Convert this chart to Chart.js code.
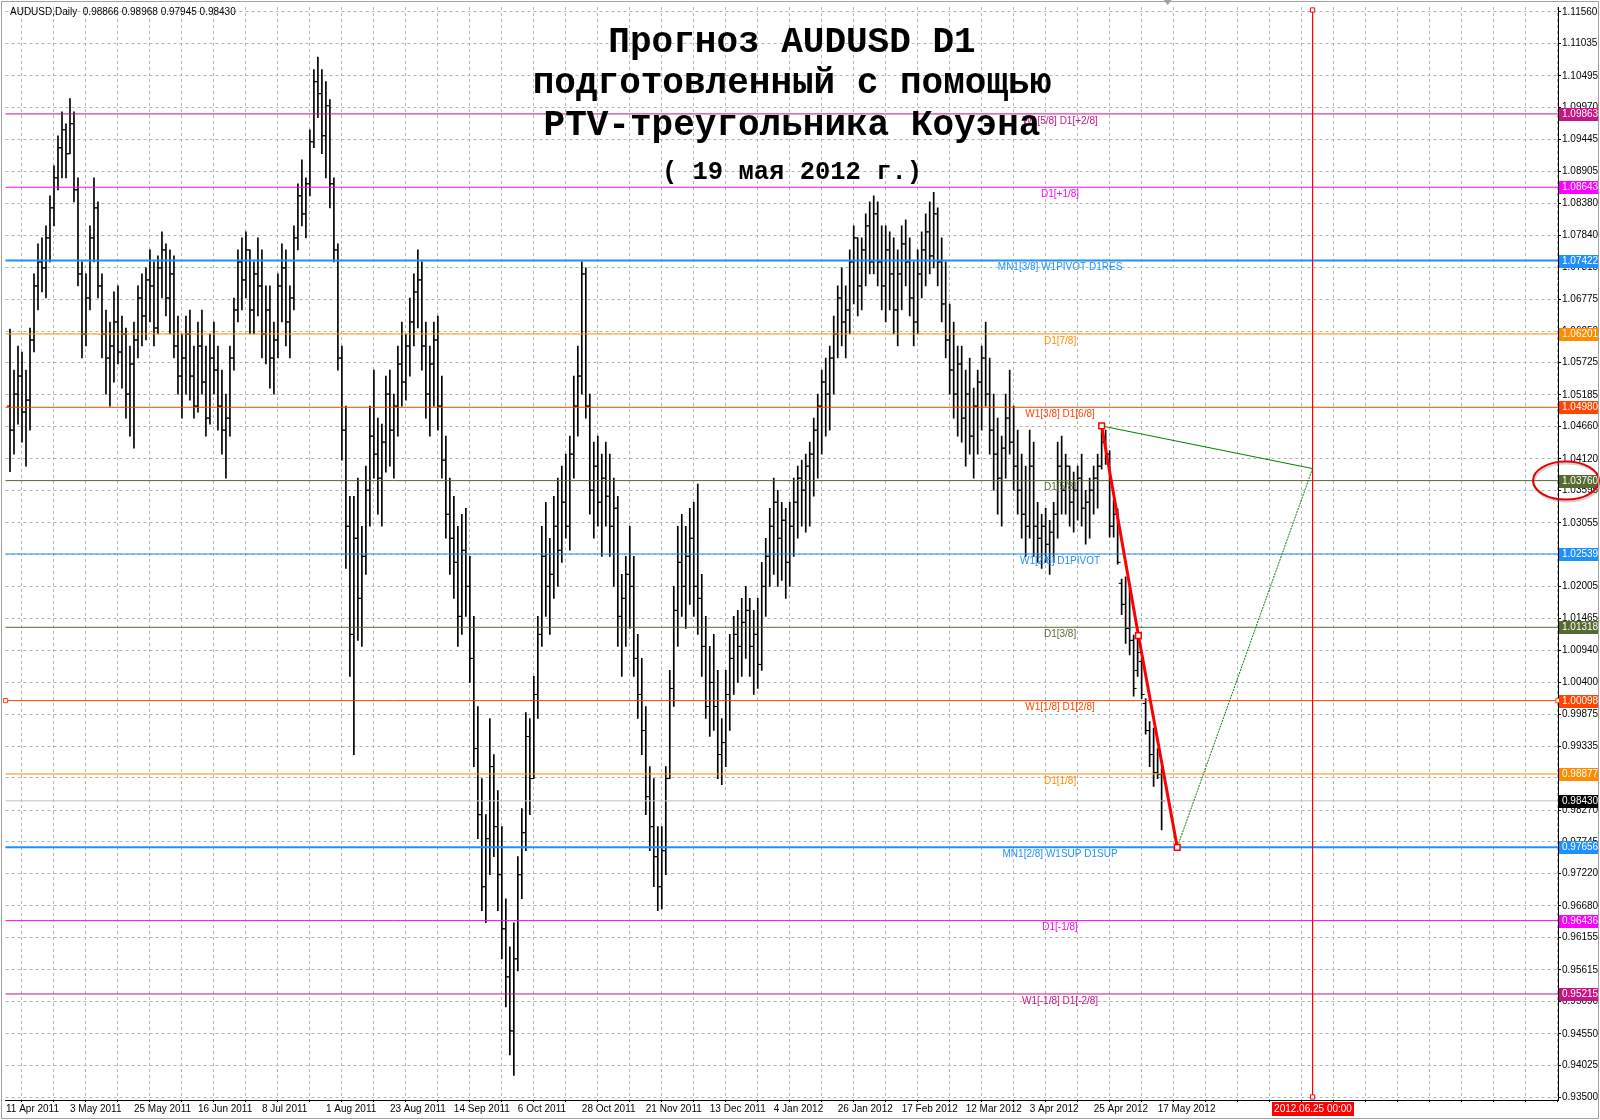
<!DOCTYPE html>
<html>
<head>
<meta charset="utf-8">
<title>AUDUSD D1</title>
<script src="https://cdn.jsdelivr.net/npm/chart.js@4.4.1/dist/chart.umd.min.js"></script>
<style>
    html, body { margin: 0; padding: 0; background: #fff; }
    #wrap { position: relative; width: 1600px; height: 1120px; overflow: hidden; }
    #c { display: block; }
    #hdr { position: absolute; left: 10px; top: 6px; font: 10px "Liberation Sans", Arial, sans-serif; color: #000; white-space: pre; }
    .t { position: absolute; left: 0; width: 1584px; text-align: center; font-family: "Liberation Mono", "Courier New", monospace; font-weight: bold; color: #000; white-space: pre; }
    .big { font-size: 36px; line-height: 40px; }
    .small { font-size: 25.5px; line-height: 30px; }
</style>
</head>
<body>
<div id="wrap">
    <canvas id="c" width="1600" height="1120"></canvas>
    <div id="hdr">AUDUSD,Daily  0.98866 0.98968 0.97945 0.98430</div>
    <div class="t big" style="top:23px">Прогноз AUDUSD D1</div>
    <div class="t big" style="top:64px">подготовленный с помощью</div>
    <div class="t big" style="top:106px">PTV-треугольника Коуэна</div>
    <div class="t small" style="top:158px">( 19 мая 2012 г.)</div>
</div>
<script>
// Daily bars, 11 Apr 2011 .. 17 May 2012 (one row = 16 bars)
var opens = [
    1.0500,1.0460,1.0520,1.0550,1.0490,1.0510,1.0610,1.0700,1.0740,1.0730,1.0780,1.0830,1.0880,1.0930,1.0960,1.0920,
    1.0970,1.0860,1.0720,1.0620,1.0680,1.0780,1.0830,1.0700,1.0620,1.0580,1.0600,1.0640,1.0590,1.0620,1.0520,1.0570,
    1.0610,1.0680,1.0650,1.0710,1.0700,1.0630,1.0730,1.0760,1.0680,1.0720,1.0600,1.0550,1.0580,1.0620,1.0550,1.0500,
    1.0600,1.0540,1.0480,1.0580,1.0560,1.0500,1.0460,1.0480,1.0580,1.0660,1.0740,1.0710,1.0760,1.0660,1.0720,1.0700,
    1.0620,1.0660,1.0580,1.0610,1.0700,1.0730,1.0640,1.0680,1.0780,1.0850,1.0820,1.0870,1.0940,1.1040,1.1020,1.0950,
    1.1000,1.0870,1.0760,1.0580,1.0460,1.0300,1.0120,1.0280,1.0180,1.0250,1.0360,1.0450,1.0420,1.0380,1.0440,1.0520,
    1.0460,1.0500,1.0570,1.0540,1.0600,1.0640,1.0690,1.0710,1.0600,1.0520,1.0570,1.0610,1.0500,1.0410,1.0320,1.0280,
    1.0240,1.0150,1.0260,1.0200,1.0080,0.9930,0.9820,0.9700,0.9780,0.9900,0.9800,0.9720,0.9630,0.9550,0.9460,0.9580,
    0.9720,0.9790,0.9950,0.9880,1.0020,1.0120,1.0250,1.0200,1.0220,1.0300,1.0260,1.0340,1.0300,1.0420,1.0500,1.0550,
    1.0720,1.0500,1.0360,1.0400,1.0340,1.0380,1.0350,1.0300,1.0330,1.0150,1.0180,1.0220,1.0200,1.0080,1.0020,0.9960,
    0.9850,0.9800,0.9750,0.9700,0.9760,0.9880,1.0030,1.0160,1.0240,1.0200,1.0250,1.0280,1.0200,1.0180,1.0100,1.0000,
    1.0040,1.0000,0.9920,0.9940,1.0020,1.0080,1.0120,1.0100,1.0140,1.0160,1.0100,1.0120,1.0070,1.0200,1.0250,1.0300,
    1.0340,1.0280,1.0310,1.0240,1.0300,1.0340,1.0380,1.0360,1.0400,1.0420,1.0460,1.0500,1.0540,1.0520,1.0580,1.0620,
    1.0680,1.0640,1.0660,1.0740,1.0780,1.0700,1.0760,1.0800,1.0740,1.0820,1.0740,1.0700,1.0760,1.0720,1.0660,1.0720,
    1.0770,1.0740,1.0680,1.0640,1.0720,1.0760,1.0790,1.0750,1.0820,1.0740,1.0670,1.0610,1.0560,1.0520,1.0570,1.0480,
    1.0520,1.0450,1.0500,1.0540,1.0580,1.0520,1.0460,1.0420,1.0380,1.0430,1.0480,1.0440,1.0400,1.0360,1.0320,1.0300,
    1.0400,1.0300,1.0280,1.0300,1.0270,1.0290,1.0320,1.0400,1.0360,1.0400,1.0340,1.0360,1.0380,1.0330,1.0340,1.0360,
    1.0380,1.0400,1.0440,1.0420,1.0300,1.0320,1.0205,1.0170,1.0130,1.0110,1.0060,1.0075,1.0005,0.9960,0.9920,0.9890,
    0.98866
];
var highs = [
    1.0628,1.0560,1.0600,1.0590,1.0560,1.0630,1.0720,1.0770,1.0780,1.0800,1.0850,1.0900,1.0950,1.0990,1.0970,1.1012,
    1.0990,1.0880,1.0740,1.0720,1.0800,1.0880,1.0840,1.0720,1.0660,1.0640,1.0690,1.0700,1.0650,1.0630,1.0600,1.0640,
    1.0700,1.0720,1.0730,1.0760,1.0740,1.0750,1.0790,1.0770,1.0760,1.0750,1.0650,1.0620,1.0650,1.0660,1.0600,1.0640,
    1.0660,1.0600,1.0620,1.0640,1.0600,1.0560,1.0520,1.0600,1.0680,1.0760,1.0780,1.0790,1.0760,1.0740,1.0780,1.0760,
    1.0700,1.0700,1.0640,1.0720,1.0770,1.0760,1.0700,1.0800,1.0870,1.0910,1.0880,1.0960,1.1060,1.1081,1.1060,1.1040,
    1.1010,1.0880,1.0770,1.0600,1.0500,1.0350,1.0350,1.0380,1.0300,1.0400,1.0500,1.0560,1.0480,1.0470,1.0550,1.0560,
    1.0520,1.0600,1.0640,1.0620,1.0680,1.0720,1.0760,1.0740,1.0640,1.0600,1.0640,1.0650,1.0550,1.0450,1.0380,1.0350,
    1.0300,1.0320,1.0330,1.0250,1.0150,1.0000,0.9880,0.9820,0.9980,0.9920,0.9860,0.9800,0.9680,0.9600,0.9640,0.9750,
    0.9830,0.9990,0.9980,1.0050,1.0150,1.0300,1.0340,1.0280,1.0350,1.0380,1.0400,1.0420,1.0450,1.0550,1.0600,1.0740,
    1.0730,1.0520,1.0440,1.0450,1.0420,1.0440,1.0420,1.0380,1.0350,1.0220,1.0250,1.0300,1.0250,1.0120,1.0080,1.0000,
    0.9900,0.9880,0.9800,0.9800,0.9900,1.0060,1.0200,1.0300,1.0320,1.0300,1.0330,1.0340,1.0370,1.0220,1.0150,1.0100,
    1.0120,1.0060,0.9980,1.0060,1.0120,1.0150,1.0160,1.0180,1.0200,1.0180,1.0160,1.0180,1.0240,1.0280,1.0330,1.0380,
    1.0360,1.0340,1.0330,1.0340,1.0380,1.0400,1.0410,1.0420,1.0440,1.0480,1.0520,1.0560,1.0580,1.0600,1.0650,1.0700,
    1.0730,1.0700,1.0760,1.0800,1.0780,1.0780,1.0820,1.0840,1.0850,1.0840,1.0800,1.0800,1.0790,1.0780,1.0760,1.0800,
    1.0810,1.0780,1.0740,1.0760,1.0790,1.0820,1.0840,1.0856,1.0830,1.0780,1.0740,1.0670,1.0640,1.0600,1.0600,1.0560,
    1.0580,1.0530,1.0560,1.0600,1.0640,1.0580,1.0520,1.0480,1.0450,1.0520,1.0560,1.0500,1.0460,1.0420,1.0400,1.0460,
    1.0440,1.0340,1.0320,1.0330,1.0310,1.0340,1.0440,1.0450,1.0420,1.0400,1.0390,1.0400,1.0420,1.0360,1.0380,1.0400,
    1.0420,1.0467,1.0460,1.0426,1.0343,1.0329,1.0212,1.0216,1.0196,1.0119,1.0119,1.0080,1.0013,0.9975,0.9964,0.9930,
    0.98968
];
var lows = [
    1.0391,1.0420,1.0470,1.0440,1.0400,1.0460,1.0590,1.0660,1.0690,1.0680,1.0740,1.0800,1.0860,1.0880,1.0880,1.0920,
    1.0840,1.0700,1.0580,1.0600,1.0660,1.0740,1.0680,1.0580,1.0520,1.0500,1.0540,1.0570,1.0530,1.0480,1.0450,1.0430,
    1.0580,1.0600,1.0610,1.0640,1.0600,1.0620,1.0680,1.0650,1.0620,1.0580,1.0520,1.0480,1.0520,1.0510,1.0480,1.0490,
    1.0520,1.0450,1.0470,1.0520,1.0460,1.0420,1.0380,1.0450,1.0560,1.0640,1.0660,1.0680,1.0620,1.0620,1.0650,1.0580,
    1.0570,1.0530,1.0520,1.0580,1.0640,1.0600,1.0580,1.0660,1.0760,1.0800,1.0780,1.0850,1.0930,1.0980,1.0920,1.0880,
    1.0830,1.0740,1.0560,1.0410,1.0230,1.0050,0.9920,1.0110,1.0100,1.0220,1.0300,1.0380,1.0320,1.0300,1.0390,1.0400,
    1.0380,1.0450,1.0500,1.0510,1.0550,1.0600,1.0630,1.0560,1.0480,1.0450,1.0500,1.0460,1.0380,1.0280,1.0220,1.0180,
    1.0100,1.0120,1.0150,1.0040,0.9900,0.9780,0.9660,0.9640,0.9720,0.9750,0.9660,0.9580,0.9500,0.9420,0.9386,0.9560,
    0.9680,0.9760,0.9820,0.9880,0.9980,1.0100,1.0150,1.0120,1.0180,1.0200,1.0240,1.0280,1.0260,1.0380,1.0450,1.0520,
    1.0480,1.0320,1.0280,1.0300,1.0250,1.0300,1.0250,1.0200,1.0100,1.0050,1.0100,1.0130,1.0050,0.9980,0.9920,0.9820,
    0.9760,0.9700,0.9660,0.9663,0.9720,0.9880,1.0000,1.0100,1.0150,1.0130,1.0170,1.0150,1.0120,1.0050,0.9980,0.9950,
    0.9960,0.9880,0.9870,0.9900,0.9960,1.0020,1.0040,1.0050,1.0080,1.0050,1.0020,1.0030,1.0060,1.0150,1.0200,1.0220,
    1.0200,1.0210,1.0180,1.0200,1.0250,1.0280,1.0300,1.0290,1.0300,1.0350,1.0380,1.0420,1.0450,1.0460,1.0520,1.0580,
    1.0600,1.0580,1.0620,1.0670,1.0650,1.0660,1.0700,1.0720,1.0720,1.0700,1.0660,1.0640,1.0660,1.0620,1.0600,1.0660,
    1.0700,1.0650,1.0600,1.0620,1.0680,1.0700,1.0720,1.0730,1.0700,1.0640,1.0580,1.0520,1.0480,1.0450,1.0440,1.0400,
    1.0420,1.0380,1.0420,1.0460,1.0500,1.0420,1.0360,1.0320,1.0300,1.0380,1.0420,1.0360,1.0320,1.0280,1.0250,1.0280,
    1.0250,1.0240,1.0230,1.0240,1.0220,1.0240,1.0280,1.0320,1.0320,1.0300,1.0290,1.0310,1.0300,1.0270,1.0280,1.0320,
    1.0330,1.0395,1.0403,1.0282,1.0282,1.0237,1.0153,1.0105,1.0086,1.0017,1.0050,1.0013,0.9954,0.9900,0.9867,0.9880,
    0.97945
];
var closes = [
    1.0460,1.0520,1.0550,1.0490,1.0510,1.0610,1.0700,1.0740,1.0730,1.0780,1.0830,1.0880,1.0930,1.0960,1.0920,1.0970,
    1.0860,1.0720,1.0620,1.0680,1.0780,1.0830,1.0700,1.0620,1.0580,1.0600,1.0640,1.0590,1.0620,1.0520,1.0570,1.0610,
    1.0680,1.0650,1.0710,1.0700,1.0630,1.0730,1.0760,1.0680,1.0720,1.0600,1.0550,1.0580,1.0620,1.0550,1.0500,1.0600,
    1.0540,1.0480,1.0580,1.0560,1.0500,1.0460,1.0480,1.0580,1.0660,1.0740,1.0710,1.0760,1.0660,1.0720,1.0700,1.0620,
    1.0660,1.0580,1.0610,1.0700,1.0730,1.0640,1.0680,1.0780,1.0850,1.0820,1.0870,1.0940,1.1040,1.1020,1.0950,1.1000,
    1.0870,1.0760,1.0580,1.0460,1.0300,1.0120,1.0280,1.0180,1.0250,1.0360,1.0450,1.0420,1.0380,1.0440,1.0520,1.0460,
    1.0500,1.0570,1.0540,1.0600,1.0640,1.0690,1.0710,1.0600,1.0520,1.0570,1.0610,1.0500,1.0410,1.0320,1.0280,1.0240,
    1.0150,1.0260,1.0200,1.0080,0.9930,0.9820,0.9700,0.9780,0.9900,0.9800,0.9720,0.9630,0.9550,0.9460,0.9580,0.9720,
    0.9790,0.9950,0.9880,1.0020,1.0120,1.0250,1.0200,1.0220,1.0300,1.0260,1.0340,1.0300,1.0420,1.0500,1.0550,1.0720,
    1.0500,1.0360,1.0400,1.0340,1.0380,1.0350,1.0300,1.0330,1.0150,1.0180,1.0220,1.0200,1.0080,1.0020,0.9960,0.9850,
    0.9800,0.9750,0.9700,0.9760,0.9880,1.0030,1.0160,1.0240,1.0200,1.0250,1.0280,1.0200,1.0180,1.0100,1.0000,1.0040,
    1.0000,0.9920,0.9940,1.0020,1.0080,1.0120,1.0100,1.0140,1.0160,1.0100,1.0120,1.0070,1.0200,1.0250,1.0300,1.0340,
    1.0280,1.0310,1.0240,1.0300,1.0340,1.0380,1.0360,1.0400,1.0420,1.0460,1.0500,1.0540,1.0520,1.0580,1.0620,1.0680,
    1.0640,1.0660,1.0740,1.0780,1.0700,1.0760,1.0800,1.0740,1.0820,1.0740,1.0700,1.0760,1.0720,1.0660,1.0720,1.0770,
    1.0740,1.0680,1.0640,1.0720,1.0760,1.0790,1.0750,1.0820,1.0740,1.0670,1.0610,1.0560,1.0520,1.0570,1.0480,1.0520,
    1.0450,1.0500,1.0540,1.0580,1.0520,1.0460,1.0420,1.0380,1.0430,1.0480,1.0440,1.0400,1.0360,1.0320,1.0300,1.0400,
    1.0300,1.0280,1.0300,1.0270,1.0290,1.0320,1.0400,1.0360,1.0400,1.0340,1.0360,1.0380,1.0330,1.0340,1.0360,1.0380,
    1.0400,1.0440,1.0420,1.0300,1.0320,1.0240,1.0170,1.0130,1.0110,1.0030,1.0090,1.0020,0.9960,0.9920,0.9890,0.9887,
    0.98430
];

var dateLabels = ['11 Apr 2011', '3 May 2011', '25 May 2011', '16 Jun 2011', '8 Jul 2011', '1 Aug 2011',
    '23 Aug 2011', '14 Sep 2011', '6 Oct 2011', '28 Oct 2011', '21 Nov 2011', '13 Dec 2011', '4 Jan 2012',
    '26 Jan 2012', '17 Feb 2012', '12 Mar 2012', '3 Apr 2012', '25 Apr 2012', '17 May 2012'];

var priceTicks = [1.11560, 1.11035, 1.10495, 1.09970, 1.09445, 1.08905, 1.08380, 1.07840, 1.07315, 1.06775,
    1.06250, 1.05725, 1.05185, 1.04660, 1.04120, 1.03595, 1.03055, 1.02530, 1.02005, 1.01465, 1.00940,
    1.00400, 0.99875, 0.99335, 0.98810, 0.98270, 0.97745, 0.97220, 0.96680, 0.96155, 0.95615, 0.95090,
    0.94550, 0.94025, 0.93500];

// Murrey-style levels
var levelValues = [1.09863, 1.08643, 1.07422, 1.06201, 1.04980, 1.03760, 1.02539, 1.01318, 1.00098, 0.98877, 0.97656, 0.96436, 0.95215];
var levelNames = ['W1[5/8] D1[+2/8]', 'D1[+1/8]', 'MN1[3/8] W1PIVOT D1RES', 'D1[7/8]', 'W1[3/8] D1[6/8]', 'D1[5/8]',
    'W1[2/8] D1PIVOT', 'D1[3/8]', 'W1[1/8] D1[2/8]', 'D1[1/8]', 'MN1[2/8] W1SUP D1SUP', 'D1[-1/8]', 'W1[-1/8] D1[-2/8]'];
var levelColors = ['#c71585', '#ff00ff', '#1e90ff', '#ff8c00', '#ff4500', '#556b2f', '#1e90ff', '#556b2f', '#ff4500',
    '#ff8c00', '#1e90ff', '#ff00ff', '#c71585'];
var levelWidths = [1, 1, 2, 1, 1, 1, 1, 1, 1, 1, 2, 1, 1];

var lastPrice = 0.98430;

// PTV triangle (bar index, price)
var ptvX = [273, 282.2, 291.9];
var ptvY = [1.04670, 1.01180, 0.97656];
var apexX = 325.75;
var apexY = 1.03960;
var apexLabel = '2012.06.25 00:00';

(function() {
    'use strict';

    var X_MIN = -1.125, X_MAX = 387.125;
    var Y_MIN = 0.934502, Y_MAX = 1.116429;
    var LABEL_AT = 262.6;
    var FONT = '"Liberation Sans", Arial, sans-serif';

    Chart.defaults.font.family = FONT;
    Chart.defaults.font.size = 10;
    Chart.defaults.color = '#000';

    var datasets = [];

    // high-low sticks
    datasets.push({
        type: 'bar',
        data: highs.map(function(h, i) { return { x: i, y: [lows[i], h] }; }),
        backgroundColor: '#000',
        borderWidth: 0,
        barThickness: 1,
        order: 10
    });
    // open / close ticks
    datasets.push({
        type: 'scatter',
        data: opens.map(function(o, i) { return { x: i - 0.375, y: o }; }),
        pointStyle: 'line', pointRadius: 1.5, borderColor: '#000', borderWidth: 1,
        order: 9
    });
    datasets.push({
        type: 'scatter',
        data: closes.map(function(c, i) { return { x: i + 0.375, y: c }; }),
        pointStyle: 'line', pointRadius: 1.5, borderColor: '#000', borderWidth: 1,
        order: 9
    });

    // levels
    levelValues.forEach(function(v, i) {
        var selected = (v === 1.00098);
        datasets.push({
            type: 'line',
            data: [{ x: X_MIN, y: v }, { x: X_MAX, y: v }],
            borderColor: levelColors[i],
            borderWidth: levelWidths[i],
            pointRadius: selected ? 3 : 0,
            pointStyle: 'rect',
            pointBackgroundColor: '#fff',
            pointBorderColor: levelColors[i],
            pointBorderWidth: 1,
            clip: false,
            order: 5
        });
    });
    // bid line
    datasets.push({
        type: 'line',
        data: [{ x: X_MIN, y: lastPrice }, { x: X_MAX, y: lastPrice }],
        borderColor: '#c0c0c0', borderWidth: 1, pointRadius: 0, order: 6
    });

    // vertical time line
    datasets.push({
        type: 'line',
        data: [{ x: apexX, y: Y_MAX - 0.0005 }, { x: apexX, y: Y_MIN + 0.0005 }],
        borderColor: '#ff0000', borderWidth: 1,
        pointStyle: 'rect', pointRadius: 3, pointBackgroundColor: '#fff', pointBorderColor: '#ff0000', pointBorderWidth: 1,
        clip: false, order: 4
    });

    // green triangle legs
    datasets.push({
        type: 'line',
        data: [{ x: ptvX[0], y: ptvY[0] }, { x: apexX, y: apexY }],
        borderColor: '#008000', borderWidth: 1, pointRadius: 0, order: 3
    });
    datasets.push({
        type: 'line',
        data: [{ x: apexX, y: apexY }, { x: ptvX[2], y: ptvY[2] }],
        borderColor: '#008000', borderWidth: 1, borderDash: [2, 1], pointRadius: 0, order: 3
    });

    // red leg
    datasets.push({
        type: 'line',
        data: ptvX.map(function(x, i) { return { x: x, y: ptvY[i] }; }),
        borderColor: '#ff0000', borderWidth: 3,
        pointStyle: 'rect', pointRadius: 4, pointBackgroundColor: '#fff', pointBorderColor: '#ff0000', pointBorderWidth: 1.5,
        order: 1
    });

    var overlay = {
        id: 'overlay',
        beforeDraw: function(chart) {
            var ctx = chart.ctx;
            ctx.save();
            ctx.fillStyle = '#fff';
            ctx.fillRect(0, 0, chart.width, chart.height);
            ctx.restore();
        },
        afterDraw: function(chart) {
            var ctx = chart.ctx;
            var area = chart.chartArea;
            var x = chart.scales.x, y = chart.scales.y;

            ctx.save();

            // level captions
            ctx.font = '10px ' + FONT;
            ctx.textAlign = 'center';
            ctx.textBaseline = 'middle';
            var lx = x.getPixelForValue(LABEL_AT);
            levelValues.forEach(function(v, i) {
                ctx.fillStyle = levelColors[i];
                ctx.fillText(levelNames[i], lx, y.getPixelForValue(v) + 7);
            });

            // price boxes on the axis
            ctx.textAlign = 'left';
            ctx.font = '10px ' + FONT;
            var boxes = levelValues.map(function(v, i) { return [v, levelColors[i]]; });
            boxes.push([lastPrice, '#000']);
            boxes.forEach(function(b) {
                var py = Math.round(y.getPixelForValue(b[0]));
                ctx.fillStyle = b[1];
                ctx.fillRect(area.right + 1, py - 6, 39, 13);
                ctx.fillStyle = '#fff';
                ctx.fillText(b[0].toFixed(5), area.right + 4, py + 0.5);
            });

            // time label
            var tx = Math.round(x.getPixelForValue(apexX));
            ctx.fillStyle = '#ff0000';
            ctx.fillRect(tx - 41, area.bottom + 2, 82, 14);
            ctx.fillStyle = '#fff';
            ctx.textAlign = 'center';
            ctx.fillText(apexLabel, tx, area.bottom + 9.5);

            // hand-drawn ellipse round the 1.03760 box
            ctx.strokeStyle = 'rgba(120,120,120,0.35)';
            ctx.lineWidth = 2;
            ctx.beginPath();
            ctx.ellipse(area.right + 9, y.getPixelForValue(1.03760) + 2, 33, 19, 0, 0, Math.PI * 2);
            ctx.stroke();
            ctx.strokeStyle = '#e00000';
            ctx.lineWidth = 2;
            ctx.beginPath();
            ctx.ellipse(area.right + 8, y.getPixelForValue(1.03760), 33, 19, 0, 0, Math.PI * 2);
            ctx.stroke();

            // chart shift marker
            var sx = x.getPixelForValue(289.5);
            ctx.fillStyle = '#a0a0a0';
            ctx.beginPath();
            ctx.moveTo(sx - 4, 0);
            ctx.lineTo(sx + 4, 0);
            ctx.lineTo(sx, 5);
            ctx.closePath();
            ctx.fill();

            // window frame
            ctx.strokeStyle = '#a0a0a0';
            ctx.lineWidth = 1;
            ctx.strokeRect(1.5, 1.5, chart.width - 3, chart.height - 3);

            ctx.restore();
        }
    };

    new Chart(document.getElementById('c'), {
        type: 'line',
        data: { datasets: datasets },
        options: {
            responsive: false,
            animation: false,
            devicePixelRatio: 1,
            events: [],
            layout: { padding: { left: 5, top: 3, right: 0, bottom: 0 } },
            plugins: {
                legend: { display: false },
                tooltip: { enabled: false },
                title: { display: false }
            },
            elements: { line: { tension: 0 } },
            scales: {
                x: {
                    type: 'linear',
                    min: X_MIN,
                    max: X_MAX,
                    offset: false,
                    bounds: 'data',
                    afterBuildTicks: function(scale) {
                        var t = [];
                        for (var k = 0; 8 * k - 1 <= X_MAX; k++) {
                            t.push({ value: 8 * k - 1 });
                        }
                        scale.ticks = t;
                    },
                    afterFit: function(scale) { scale.height = 20; },
                    grid: {
                        color: '#b4b4b4',
                        lineWidth: 1,
                        drawTicks: true,
                        tickLength: 2,
                        tickColor: '#000',
                        tickBorderDash: []
                    },
                    border: { display: true, color: '#000', width: 1, dash: [3, 3] },
                    ticks: {
                        autoSkip: false,
                        maxRotation: 0,
                        minRotation: 0,
                        align: 'start',
                        padding: 1,
                        color: '#000',
                        font: { size: 10 },
                        callback: function(value, index) {
                            if (index % 2 !== 0) return '';
                            return dateLabels[index / 2] || '';
                        }
                    }
                },
                y: {
                    type: 'linear',
                    position: 'right',
                    min: Y_MIN,
                    max: Y_MAX,
                    bounds: 'data',
                    afterBuildTicks: function(scale) {
                        scale.ticks = priceTicks.map(function(v) { return { value: v }; });
                    },
                    afterFit: function(scale) { scale.width = 42; },
                    grid: {
                        color: '#b4b4b4',
                        lineWidth: 1,
                        drawTicks: true,
                        tickLength: 3,
                        tickColor: '#000',
                        tickBorderDash: []
                    },
                    border: { display: true, color: '#000', width: 1, dash: [3, 3] },
                    ticks: {
                        autoSkip: false,
                        padding: 1,
                        color: '#000',
                        font: { size: 10 },
                        callback: function(value) { return value.toFixed(5); }
                    }
                }
            }
        },
        plugins: [overlay]
    });
})();
</script>
</body>
</html>
